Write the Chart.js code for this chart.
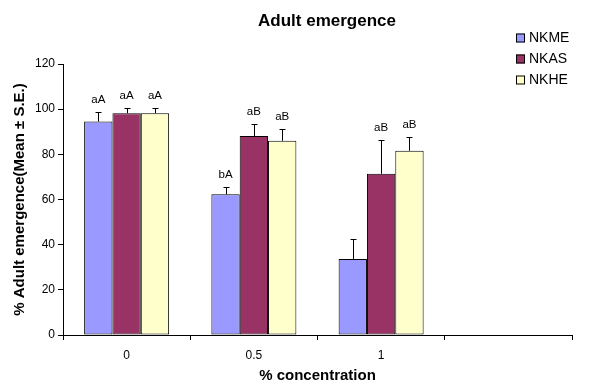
<!DOCTYPE html>
<html>
<head>
<meta charset="utf-8">
<script src="https://cdn.jsdelivr.net/npm/chart.js@4.4.1/dist/chart.umd.min.js"></script>
<style>
  html, body { margin: 0; padding: 0; background: #fff; }
  #wrap { width: 601px; height: 385px; position: relative; }
</style>
</head>
<body>
<div id="wrap"><canvas id="c"></canvas></div>
<script>
// ---- data ----
const categories = ['0', '0.5', '1', ''];
const seriesNames = ['NKME', 'NKAS', 'NKHE'];
const nkme = [94.5, 62.3, 33.7, null];
const nkas = [98.2, 88.1, 71.4, null];
const nkhe = [98.2, 86.0, 81.6, null];
const nkmeErr = [4.1, 3.1, 8.9, null];
const nkasErr = [2.2, 5.2, 14.8, null];
const nkheErr = [2.2, 5.4, 6.0, null];
const nkmeSig = ['aA', 'bA', '', ''];
const nkasSig = ['aA', 'aB', 'aB', ''];
const nkheSig = ['aA', 'aB', 'aB', ''];
const yTicks = [0, 20, 40, 60, 80, 100, 120];

const chartTitle = 'Adult emergence';
const xTitle = '% concentration';
const yTitle = '% Adult emergence(Mean \u00B1 S.E.)';

const colors = ['#9999FF', '#993366', '#FFFFCC'];
const FONT = '"Liberation Sans", Arial, sans-serif';

const values = [nkme, nkas, nkhe];
const errors = [nkmeErr, nkasErr, nkheErr];
const sigs = [nkmeSig, nkasSig, nkheSig];

const extras = {
  id: 'extras',
  afterDatasetsDraw(chart) {
    const ctx = chart.ctx;
    const yScale = chart.scales.y;
    ctx.save();
    ctx.strokeStyle = '#000';
    ctx.lineWidth = 1;
    ctx.fillStyle = '#000';
    ctx.font = '11.5px ' + FONT;
    ctx.textAlign = 'center';
    ctx.textBaseline = 'alphabetic';
    values.forEach((vals, i) => {
      const meta = chart.getDatasetMeta(i);
      meta.data.forEach((bar, j) => {
        const v = vals[j];
        if (v === null || v === undefined) return;
        const e = errors[i][j] || 0;
        const x = Math.round(bar.x) + 0.5;
        const yTop = Math.round(yScale.getPixelForValue(v + e)) + 0.5;
        ctx.beginPath();
        ctx.moveTo(x, bar.y);
        ctx.lineTo(x, yTop);
        ctx.moveTo(x - 3, yTop);
        ctx.lineTo(x + 3, yTop);
        ctx.stroke();
        const s = sigs[i][j];
        if (s) ctx.fillText(s, bar.x, yTop - 10);
      });
    });
    ctx.restore();
  },
  afterDraw(chart) {
    const ctx = chart.ctx;
    ctx.save();
    ctx.fillStyle = '#000';
    // title
    ctx.font = 'bold 17px ' + FONT;
    ctx.textAlign = 'center';
    ctx.textBaseline = 'middle';
    ctx.fillText(chartTitle, 327, 21);
    // x title
    ctx.font = 'bold 15px ' + FONT;
    const ca = chart.chartArea;
    ctx.fillText(xTitle, (ca.left + ca.right) / 2, 376);
    // y title
    ctx.save();
    ctx.translate(20, (ca.top + ca.bottom) / 2);
    ctx.rotate(-Math.PI / 2);
    ctx.fillText(yTitle, 0, 0);
    ctx.restore();
    // legend
    ctx.font = '14px ' + FONT;
    ctx.textAlign = 'left';
    ctx.textBaseline = 'middle';
    seriesNames.forEach((n, i) => {
      const cy = 38 + i * 21;
      ctx.fillStyle = colors[i];
      ctx.fillRect(516, cy - 4.5, 9, 9);
      ctx.strokeStyle = '#000';
      ctx.lineWidth = 1;
      ctx.strokeRect(516.5, cy - 4, 8, 8);
      ctx.fillStyle = '#000';
      ctx.fillText(n, 529, cy + 0.5);
    });
    ctx.restore();
  }
};

new Chart(document.getElementById('c'), {
  type: 'bar',
  data: {
    labels: categories,
    datasets: values.map((vals, i) => ({
      label: seriesNames[i],
      data: vals,
      backgroundColor: colors[i],
      borderColor: '#000',
      borderWidth: 1,
      borderSkipped: false,
      barPercentage: 1.0,
      categoryPercentage: 0.668
    }))
  },
  options: {
    responsive: true,
    maintainAspectRatio: false,
    animation: false,
    layout: { padding: { left: 0, top: 64, right: 29, bottom: 0 } },
    plugins: {
      legend: { display: false },
      title: { display: false },
      tooltip: { enabled: false }
    },
    scales: {
      x: {
        afterFit(scale) { scale.height = 50; },
        grid: { offset: true, drawOnChartArea: false, drawTicks: true, tickLength: 5, color: '#000' },
        border: { color: '#000', width: 1 },
        ticks: { color: '#000', font: { family: FONT, size: 12 }, padding: 8, maxRotation: 0 }
      },
      y: {
        min: 0,
        max: 120,
        afterFit(scale) { scale.width = 63; },
        afterBuildTicks(scale) { scale.ticks = yTicks.map(v => ({ value: v })); },
        grid: { drawOnChartArea: false, drawTicks: true, tickLength: 5, color: '#000' },
        border: { color: '#000', width: 1 },
        ticks: { color: '#000', font: { family: FONT, size: 12 }, padding: 3 }
      }
    }
  },
  plugins: [extras]
});
</script>
</body>
</html>
